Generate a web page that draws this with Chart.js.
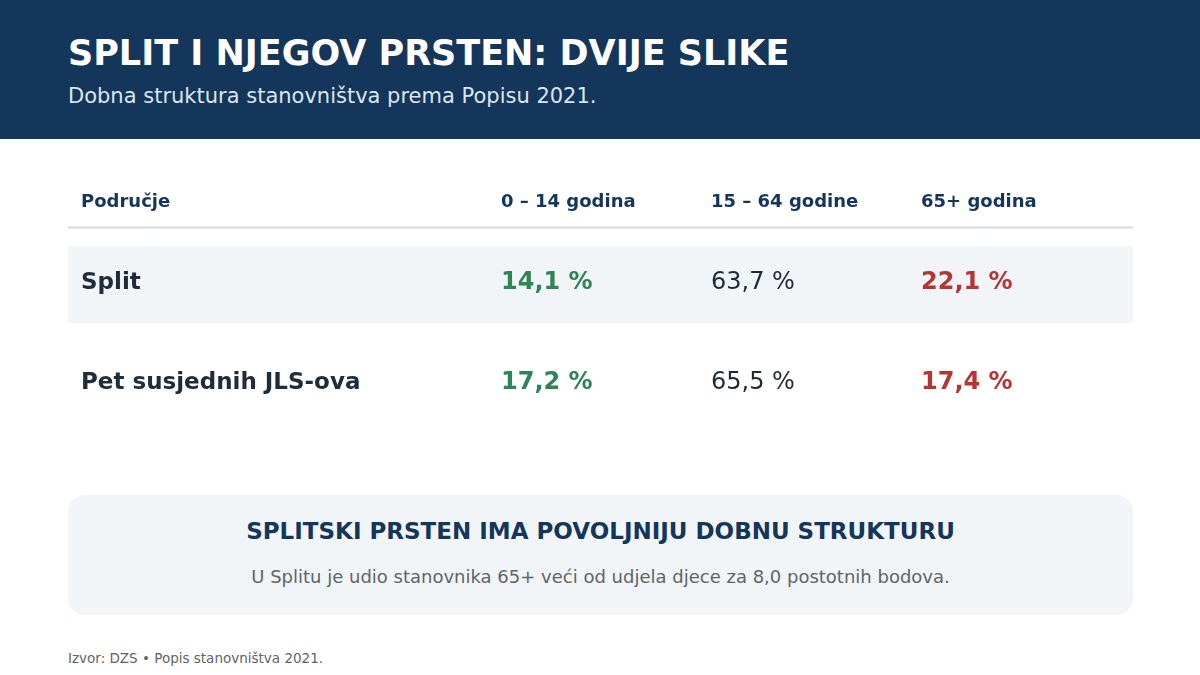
<!DOCTYPE html>
<html lang="hr">
<head>
<meta charset="utf-8">
<script src="https://cdn.jsdelivr.net/npm/chart.js@4"></script>
<style>
  html, body { margin: 0; padding: 0; background: #ffffff; }
  body { width: 1200px; height: 675px; position: relative; overflow: hidden; font-family: "DejaVu Sans", sans-serif; }
  .hdr { position: absolute; left: 0; top: 0; width: 1200px; height: 139px; background: #14365a; }
  .hdr h1 { position: absolute; left: 68px; top: 31px; margin: 0; font-size: 35px; font-weight: bold; color: #ffffff; line-height: 44px; white-space: nowrap; }
  .hdr p { position: absolute; left: 68px; top: 83px; margin: 0; font-size: 21px; color: #dce5ef; line-height: 26px; white-space: nowrap; }
  .wrap { position: absolute; left: 0; top: 150px; width: 1200px; height: 300px; }
  .callout { position: absolute; left: 68px; top: 495px; width: 1065px; height: 120px; background: #f2f5f8; border-radius: 16px; text-align: center; }
  .callout .t { position: absolute; left: 0; right: 0; top: 21px; font-size: 23px; font-weight: bold; color: #14365a; line-height: 30px; white-space: nowrap; }
  .callout .s { position: absolute; left: 0; right: 0; top: 70px; font-size: 18px; color: #5f6468; line-height: 24px; white-space: nowrap; }
  .src { position: absolute; left: 68px; top: 649px; font-size: 13.5px; color: #5f6468; line-height: 18px; white-space: nowrap; }
</style>
</head>
<body>
<div class="hdr">
  <h1>SPLIT I NJEGOV PRSTEN: DVIJE SLIKE</h1>
  <p>Dobna struktura stanovništva prema Popisu 2021.</p>
</div>
<div class="wrap"><canvas id="c"></canvas></div>
<div class="callout">
  <div class="t">SPLITSKI PRSTEN IMA POVOLJNIJU DOBNU STRUKTURU</div>
  <div class="s">U Splitu je udio stanovnika 65+ veći od udjela djece za 8,0 postotnih bodova.</div>
</div>
<div class="src">Izvor: DZS • Popis stanovništva 2021.</div>
<script>
// ---- data ----
const columns = ['Područje', '', '0 – 14 godina', '15 – 64 godine', '65+ godina'];
const areas = ['Split', 'Pet susjednih JLS-ova'];
const age0to14 = [14.1, 17.2];
const age15to64 = [63.7, 65.5];
const age65plus = [22.1, 17.4];

function fmt(v) { return v.toFixed(1).replace('.', ',') + ' %'; }

function makeData(col, values) {
  return areas.map((a, i) => ({ x: col, y: a, v: values[i] }));
}

const FONT = '"DejaVu Sans", sans-serif';

const tablePlugin = {
  id: 'tablePlugin',
  beforeDatasetsDraw(chart) {
    const ctx = chart.ctx;
    const xs = chart.scales.x, ys = chart.scales.y;
    const left = xs.left - 13, right = 1133;
    ctx.save();
    // striped row background (first row)
    areas.forEach((a, i) => {
      if (i % 2 === 0) {
        const y = ys.getPixelForValue(i);
        ctx.fillStyle = '#f2f5f8';
        ctx.fillRect(left, y - 36, right - left, 77);
      }
    });
    // header labels
    ctx.font = 'bold 18px ' + FONT;
    ctx.fillStyle = '#14365a';
    ctx.textAlign = 'left';
    ctx.textBaseline = 'middle';
    const hy = chart.chartArea.top - 30;
    columns.forEach((c, i) => {
      if (c) ctx.fillText(c, xs.getPixelForValue(i), hy);
    });
    // header rule
    ctx.fillStyle = '#d3dbe3';
    ctx.fillRect(left, chart.chartArea.top - 5.5, right - left, 2);
    // row labels
    ctx.font = 'bold 23px ' + FONT;
    ctx.fillStyle = '#1f2d3a';
    areas.forEach((a, i) => {
      ctx.fillText(a, xs.getPixelForValue(0), ys.getPixelForValue(i) + 1);
    });
    ctx.restore();
  },
  afterDatasetsDraw(chart) {
    const ctx = chart.ctx;
    ctx.save();
    ctx.textAlign = 'left';
    ctx.textBaseline = 'middle';
    chart.data.datasets.forEach((ds, di) => {
      const meta = chart.getDatasetMeta(di);
      ctx.font = (ds.textBold ? 'bold ' : '') + '24px ' + FONT;
      ctx.fillStyle = ds.textColor;
      meta.data.forEach((el, i) => {
        ctx.fillText(fmt(ds.data[i].v), el.x, el.y + 1);
      });
    });
    ctx.restore();
  }
};

new Chart(document.getElementById('c'), {
  type: 'scatter',
  data: {
    datasets: [
      { label: columns[2], data: makeData(columns[2], age0to14), textColor: '#2e8555', textBold: true, pointRadius: 0, pointHoverRadius: 0 },
      { label: columns[3], data: makeData(columns[3], age15to64), textColor: '#1f2a35', textBold: false, pointRadius: 0, pointHoverRadius: 0 },
      { label: columns[4], data: makeData(columns[4], age65plus), textColor: '#b83434', textBold: true, pointRadius: 0, pointHoverRadius: 0 }
    ]
  },
  options: {
    responsive: true,
    maintainAspectRatio: false,
    animation: false,
    events: [],
    layout: { padding: { left: 81, right: 279, top: 82, bottom: 18 } },
    plugins: { legend: { display: false }, tooltip: { enabled: false } },
    scales: {
      x: { type: 'category', labels: columns, offset: false, display: false },
      y: { type: 'category', labels: areas, offset: true, display: false }
    }
  },
  plugins: [tablePlugin]
});
</script>
</body>
</html>
